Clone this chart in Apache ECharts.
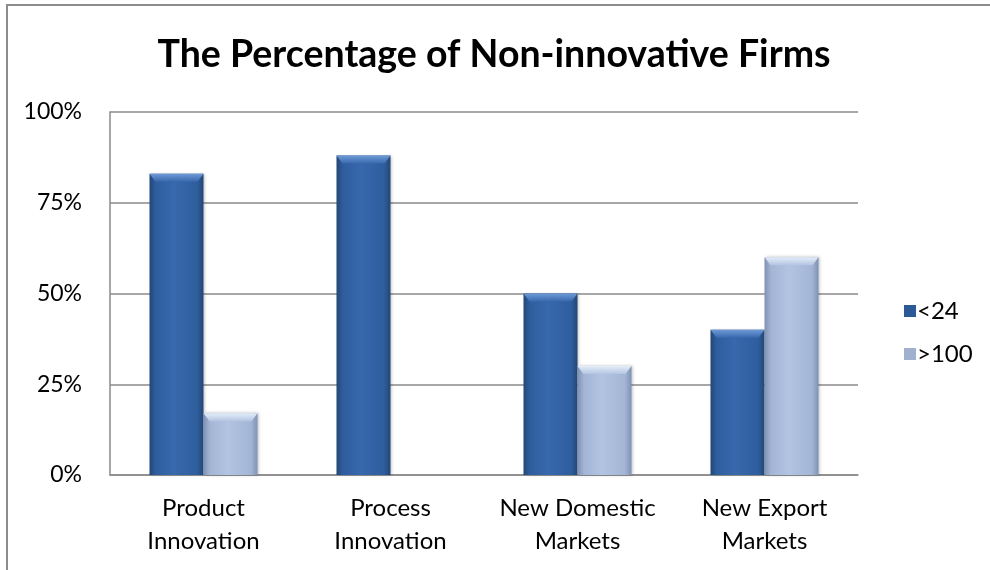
<!DOCTYPE html>
<html>
<head>
<meta charset="utf-8">
<title>The Percentage of Non-innovative Firms</title>
<script src="https://cdn.jsdelivr.net/npm/echarts@6/dist/echarts.min.js"></script>
<style>
  html, body { margin: 0; padding: 0; background: #fff; }
  #chart { width: 990px; height: 570px; }
</style>
</head>
<body>
<div id="chart"></div>
<script>
// Share of firms reporting no innovation, by firm size group
const categories = ['Product\nInnovation', 'Process\nInnovation', 'New Domestic\nMarkets', 'New Export\nMarkets'];
const seriesNames = ['<24', '>100'];
const small = [83, 88, 50, 40];   // firms with fewer than 24 employees
const large = [17, 0, 30, 60];    // firms with more than 100 employees
const yTicks = [0, 25, 50, 75, 100];

const FONT = 'Lato, "Open Sans", sans-serif';

// Palette for the bevelled columns: edge, body, highlight, bevel top
const palettes = [
  { edge: '#234777', body: '#2f5e9e', mid: '#3868ad', bevel: '#6f9ad6', icon: '#2c5a97' },
  { edge: '#7f92b4', body: '#a3b5d5', mid: '#b3c4e2', bevel: '#e4edf8', icon: '#a0b1cf' }
];

const BAR_W = 54;

function makeRender(seriesIndex) {
  const pal = palettes[seriesIndex];
  return function (params, api) {
    const cat = api.value(0);
    const val = api.value(1);
    if (!val) return null;
    const base = api.coord([cat, 0]);
    const top = api.coord([cat, val]);
    const x0 = seriesIndex === 0 ? base[0] - BAR_W : base[0];
    const x1 = x0 + BAR_W;
    const y0 = top[1];
    const y1 = base[1];
    const bev = 8;
    const inset = 6;
    return {
      type: 'group',
      children: [
        {
          type: 'rect',
          shape: { x: x0, y: y0, width: BAR_W, height: y1 - y0 },
          style: {
            fill: new echarts.graphic.LinearGradient(0, 0, 1, 0, [
              { offset: 0, color: pal.edge },
              { offset: 0.12, color: pal.body },
              { offset: 0.45, color: pal.mid },
              { offset: 0.88, color: pal.body },
              { offset: 1, color: pal.edge }
            ]),
            shadowBlur: 3,
            shadowColor: 'rgba(0,0,0,0.25)',
            shadowOffsetX: 1
          }
        },
        {
          type: 'polygon',
          shape: {
            points: [[x0, y0], [x1, y0], [x1 - inset, y0 + bev], [x0 + inset, y0 + bev]]
          },
          style: {
            fill: new echarts.graphic.LinearGradient(0, 0, 0, 1, [
              { offset: 0, color: pal.bevel },
              { offset: 1, color: pal.mid }
            ])
          }
        }
      ]
    };
  };
}

function seriesData(values) {
  return values.map((v, i) => [i, v]);
}

const chart = echarts.init(document.getElementById('chart'), null, { renderer: 'canvas' });

chart.setOption({
  animation: false,
  backgroundColor: '#ffffff',
  title: {
    text: 'The Percentage of Non-innovative Firms',
    left: 489,
    top: 31,
    textAlign: 'center',
    textStyle: { fontFamily: FONT, fontSize: 37.5, fontWeight: 'bold', color: '#000' }
  },
  graphic: [
    {
      type: 'rect',
      shape: { x: 7, y: 5, width: 1000, height: 600 },
      style: { fill: 'none', stroke: '#8c8c8c', lineWidth: 2 },
      silent: true
    }
  ],
  legend: {
    orient: 'vertical',
    left: 899,
    top: 294,
    itemGap: 19,
    itemWidth: 12,
    itemHeight: 12,
    icon: 'rect',
    data: seriesNames.map((n, i) => ({ name: n, itemStyle: { color: palettes[i].icon } })),
    textStyle: { fontFamily: FONT, fontSize: 24, color: '#000', padding: [0, 0, 0, -4] }
  },
  grid: { left: 110, right: 132, top: 112, bottom: 95 },
  xAxis: {
    type: 'category',
    data: categories,
    axisLine: { show: true, lineStyle: { color: '#8a8a8a', width: 1.5 } },
    axisTick: { show: false },
    axisLabel: {
      interval: 0,
      hideOverlap: false,
      fontFamily: FONT, fontSize: 24, color: '#000', lineHeight: 33, margin: 17
    }
  },
  yAxis: {
    type: 'value',
    min: 0,
    max: 100,
    interval: 25,
    axisLine: { show: true, lineStyle: { color: '#8a8a8a', width: 1.5 } },
    axisTick: { show: false },
    splitLine: { show: true, lineStyle: { color: '#8a8a8a', width: 1.5 } },
    axisLabel: {
      fontFamily: FONT, fontSize: 23, color: '#000', margin: 28,
      formatter: v => (yTicks.includes(v) ? v + '%' : '')
    }
  },
  series: [
    {
      name: seriesNames[0],
      type: 'custom',
      renderItem: makeRender(0),
      itemStyle: { color: palettes[0].icon },
      encode: { x: 0, y: 1 },
      data: seriesData(small)
    },
    {
      name: seriesNames[1],
      type: 'custom',
      renderItem: makeRender(1),
      itemStyle: { color: palettes[1].icon },
      encode: { x: 0, y: 1 },
      data: seriesData(large)
    }
  ]
});
</script>
</body>
</html>
